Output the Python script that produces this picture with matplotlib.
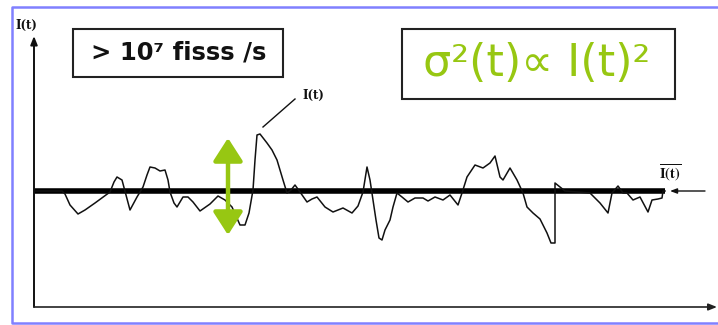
import matplotlib
matplotlib.use("Agg")
import matplotlib.pyplot as plt
from matplotlib.patches import Rectangle
from matplotlib.lines import Line2D

plt.rcParams["mathtext.fontset"] = "stix"

# Fluctuating detector current I(t) versus time (arbitrary units)
t = [0, 28, 31, 36, 44, 51, 61, 76, 80, 83, 88, 92, 96, 103, 109, 113, 116, 121,
     126, 131, 134, 136, 140, 143, 149, 154, 159, 166, 176, 184, 191, 198, 202,
     206, 211, 215, 219, 221, 223, 226, 233, 238, 243, 249, 253, 257, 261, 266,
     273, 278, 283, 291, 299, 309, 318, 324, 329, 333, 336, 339, 342, 345, 348,
     351, 356, 359, 363, 368, 374, 381, 389, 394, 401, 409, 416, 424, 428, 433,
     441, 449, 456, 461, 466, 469, 476, 483, 489, 493, 499, 506, 513, 517, 521,
     521, 526, 531, 556, 566, 574, 578, 584, 589, 593, 599, 606, 614, 618, 624,
     628, 629, 631]
current = [116, 116, 113, 102, 93, 97, 104, 115, 125, 130, 127, 112, 97, 110,
           120, 132, 140, 139, 136, 137, 127, 115, 104, 100, 110, 110, 105, 96,
           103, 111, 107, 100, 91, 82, 82, 94, 117, 147, 172, 173, 164, 157, 147,
           127, 114, 117, 122, 115, 105, 108, 110, 100, 95, 99, 94, 101, 115,
           140, 127, 107, 87, 69, 67, 77, 87, 100, 114, 110, 105, 109, 109, 106,
           110, 107, 112, 102, 114, 130, 142, 139, 144, 151, 130, 127, 139, 127,
           114, 100, 94, 88, 74, 64, 64, 124, 120, 116, 114, 104, 94, 114, 121,
           114, 114, 107, 110, 95, 107, 108, 109, 116, 116]
mean_current = 116
t_end = 680
i_top = 269

# Green double arrow marking the spread of the fluctuation
spread_t = 194
spread_lo, spread_hi = 72, 169

GREEN = "#97C712"
FRAME = "#8080FF"

W, H = 718, 325
fig = plt.figure(figsize=(W / 100, H / 100), dpi=100)
fig.patch.set_facecolor("white")

def fx(px):
    return px / W

def fy(py):
    return 1 - py / H

# outer frame (top, left, bottom)
fig.lines.append(Line2D([1.0, fx(12), fx(12), 1.0], [fy(7), fy(7), fy(323), fy(323)],
                        transform=fig.transFigure, color=FRAME, lw=1.8))

ax = fig.add_axes([fx(34), fy(307), fx(714) - fx(34), fy(38) - fy(307)])
ax.set_xlim(0, t_end)
ax.set_ylim(0, i_top)
ax.axis("off")
ax.patch.set_alpha(0)

# axes drawn as arrows
ax.annotate("", xy=(0, i_top + 2), xytext=(0, 0),
            arrowprops=dict(arrowstyle="-|>,head_length=0.5,head_width=0.2",
                            color="#111", lw=1.4, shrinkA=0, shrinkB=0),
            annotation_clip=False)
ax.annotate("", xy=(t_end + 3, 0), xytext=(0, 0),
            arrowprops=dict(arrowstyle="-|>,head_length=0.5,head_width=0.2",
                            color="#222", lw=1.2, shrinkA=0, shrinkB=0),
            annotation_clip=False)

# mean level
ax.plot([0, 631], [mean_current, mean_current], color="#000", lw=4.0,
        solid_capstyle="butt", zorder=2)
# signal trace
ax.plot(t, current, color="#111", lw=1.1, zorder=3)

# pointer to the mean
ax.annotate("", xy=(636, mean_current), xytext=(671, mean_current),
            arrowprops=dict(arrowstyle="-|>,head_length=0.4,head_width=0.15",
                            color="#111", lw=1.0, shrinkA=0, shrinkB=0),
            annotation_clip=False)
ax.text(636, 134, r"$\overline{\mathbf{I(t)}}$", fontsize=10.5, ha="center",
        va="center", color="#111")

# label on the signal peak
ax.plot([229, 261], [180, 208], color="#111", lw=1.0)
ax.text(279, 212, "I(t)", fontsize=8.5, fontweight="bold", family="serif",
        ha="center", va="center", color="#111")

# axis name
fig.text(fx(26), fy(25), "I(t)", fontsize=8.5, fontweight="bold",
         family="serif", ha="center", va="center", color="#111")

# spread arrow
ax.annotate("", xy=(spread_t, spread_hi), xytext=(spread_t, spread_lo),
            arrowprops=dict(arrowstyle="<|-|>,head_length=0.7,head_width=0.45",
                            color=GREEN, lw=3.2, shrinkA=0, shrinkB=0,
                            mutation_scale=20),
            zorder=4)

# rate box
fig.patches.append(Rectangle((fx(73), fy(77)), fx(283) - fx(73),
                             fy(29) - fy(77), transform=fig.transFigure,
                             fill=False, edgecolor="#222", lw=1.5))
fig.text(fx(179), fy(53), "> 10\u2077 fisss /s", fontsize=17.5,
         fontweight="bold", ha="center", va="center", color="#111")

# variance box
fig.patches.append(Rectangle((fx(402), fy(99)), fx(675) - fx(402),
                             fy(29) - fy(99), transform=fig.transFigure,
                             fill=False, edgecolor="#222", lw=1.5))
fig.text(fx(537), fy(64), "\u03c3\u00b2(t)\u221d I(t)\u00b2", fontsize=32,
         ha="center", va="center", color=GREEN)

fig.savefig("out.png", dpi=100, facecolor="white")
